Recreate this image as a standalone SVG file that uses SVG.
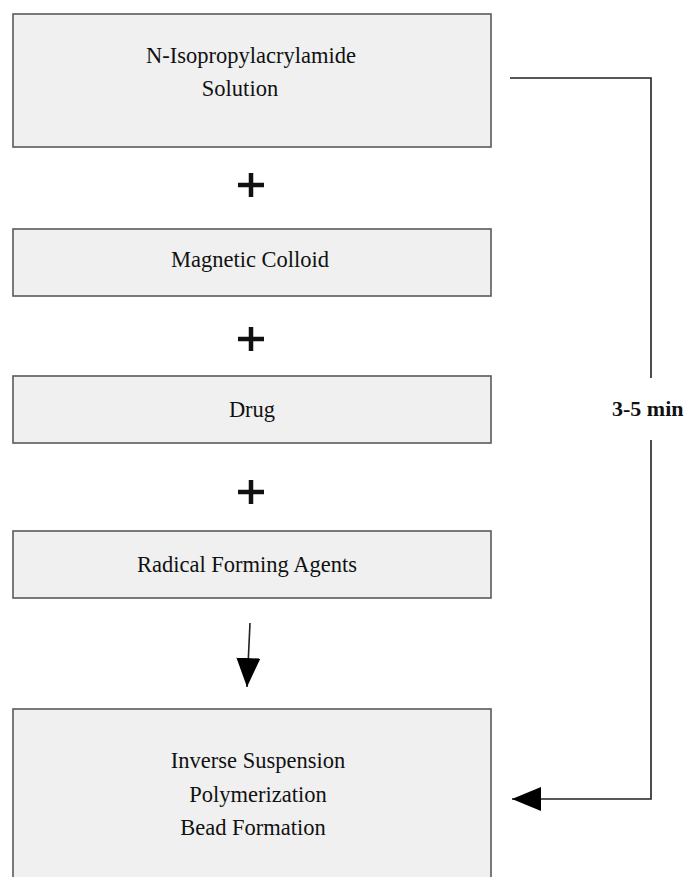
<svg xmlns="http://www.w3.org/2000/svg" width="689" height="877" viewBox="0 0 689 877">
<style>
.box{fill:#f0f0f0;stroke:#5a5a5a;stroke-width:1.6}
.lbl{font-family:"Liberation Serif","Times New Roman",serif;font-size:22.5px;fill:#111;text-anchor:middle}
.plus{stroke:#111;stroke-width:4.5;fill:none}
.conn{stroke:#222;stroke-width:1.6;fill:none}
.time{font-family:"Liberation Serif","Times New Roman",serif;font-size:22px;font-weight:bold;fill:#111}
</style>
<defs>
<marker id="ah" markerUnits="userSpaceOnUse" markerWidth="30" markerHeight="26" refX="29" refY="12" orient="auto">
<path d="M0,0 L29,12 L0,24 z" fill="#000"/>
</marker>
</defs>
<rect width="689" height="877" fill="#fff"/>
<g id="node-nipa">
<rect class="box" x="13" y="14" width="478" height="133"/>
<text class="lbl" x="251" y="63">N-Isopropylacrylamide</text>
<text class="lbl" x="240" y="96">Solution</text>
</g>
<g id="plus-1"><path class="plus" d="M238,185 H264 M251,173 V197"/></g>
<g id="node-colloid">
<rect class="box" x="13" y="229" width="478" height="67"/>
<text class="lbl" x="250" y="267">Magnetic Colloid</text>
</g>
<g id="plus-2"><path class="plus" d="M238,339 H264 M251,327 V351"/></g>
<g id="node-drug">
<rect class="box" x="13" y="376" width="478" height="67"/>
<text class="lbl" x="252" y="417">Drug</text>
</g>
<g id="plus-3"><path class="plus" d="M238,492 H264 M251,480 V504"/></g>
<g id="node-radical">
<rect class="box" x="13" y="531" width="478" height="67"/>
<text class="lbl" x="247" y="572">Radical Forming Agents</text>
</g>
<g id="node-bead">
<rect class="box" x="13" y="709" width="478" height="172"/>
<text class="lbl" x="258" y="768">Inverse Suspension</text>
<text class="lbl" x="258" y="802">Polymerization</text>
<text class="lbl" x="253" y="835">Bead Formation</text>
</g>
<g id="connectors">
<path class="conn" d="M250,623 L247,687" marker-end="url(#ah)"/>
<path class="conn" d="M510,78 H651 V378"/>
<path class="conn" d="M651,440 V799 H512" marker-end="url(#ah)"/>
<text class="time" x="612" y="416">3-5 min</text>
</g>
</svg>
